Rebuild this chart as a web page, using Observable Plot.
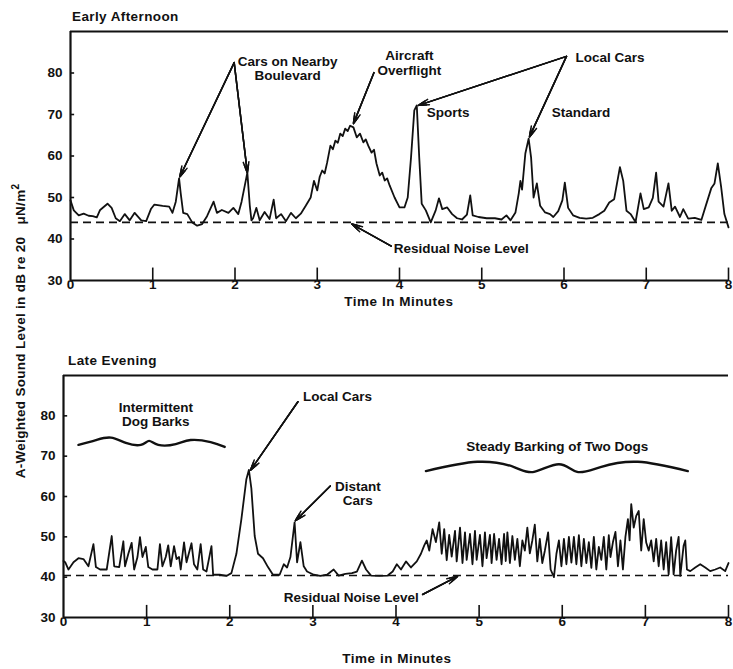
<!DOCTYPE html>
<html><head><meta charset="utf-8">
<script src="https://cdn.jsdelivr.net/npm/d3@7"></script>
<script src="https://cdn.jsdelivr.net/npm/@observablehq/plot@0.6"></script>
<style>
body{margin:0;background:#fff;}
#wrap{position:relative;width:733px;height:669px;font-family:"Liberation Sans",Arial,Helvetica,sans-serif;font-weight:bold;color:#111;overflow:hidden;}
.abs{position:absolute;white-space:nowrap;}
</style></head><body>
<div id="wrap">
  <div class="abs" id="p1" style="left:0;top:0"></div>
  <div class="abs" id="p2" style="left:0;top:340px"></div>
  <div class="abs" style="left:72px;top:9px;font-size:13.5px;letter-spacing:0.4px">Early Afternoon</div>
  <div class="abs" style="left:68px;top:353px;font-size:13.5px;letter-spacing:0.4px">Late Evening</div>
  <div class="abs" style="left:399px;top:302px;font-size:13.5px;letter-spacing:0.5px;line-height:14px;transform:translate(-50%,-50%)">Time In Minutes</div>
  <div class="abs" style="left:397px;top:659px;font-size:13.5px;letter-spacing:0.5px;line-height:14px;transform:translate(-50%,-50%)">Time in Minutes</div>
  <div class="abs" style="left:19px;top:331px;font-size:13.5px;letter-spacing:0.3px;transform:translate(-50%,-50%) rotate(-90deg)">A-Weighted Sound Level in dB re 20&nbsp;&nbsp; μN/m<sup style="font-size:10px">2</sup></div>
</div>
<script>
// ---------- data ----------
const xTickLabels = [0, 1, 2, 3, 4, 5, 6, 7, 8];
const yTickLabels = [30, 40, 50, 60, 70, 80];
const afternoonResidual = 44;
const eveningResidual = 40.4;

const afternoonMinutes = [0.00,0.04,0.10,0.16,0.22,0.27,0.32,0.36,0.45,0.50,0.55,0.60,0.66,0.72,0.78,0.86,0.92,0.98,1.02,1.12,1.20,1.24,1.28,1.32,1.34,1.37,1.42,1.48,1.54,1.60,1.66,1.74,1.78,1.84,1.92,1.98,2.04,2.08,2.12,2.15,2.18,2.20,2.22,2.26,2.30,2.36,2.42,2.47,2.50,2.56,2.62,2.68,2.74,2.80,2.86,2.92,2.96,3.00,3.03,3.06,3.09,3.12,3.16,3.19,3.22,3.25,3.28,3.31,3.34,3.37,3.40,3.44,3.48,3.52,3.56,3.59,3.62,3.66,3.69,3.72,3.76,3.79,3.82,3.85,3.88,3.94,4.00,4.06,4.10,4.14,4.18,4.21,4.24,4.27,4.32,4.38,4.44,4.48,4.52,4.58,4.64,4.70,4.76,4.82,4.86,4.89,4.96,5.06,5.16,5.24,5.30,5.35,5.41,5.45,5.47,5.49,5.53,5.57,5.60,5.63,5.67,5.71,5.77,5.83,5.87,5.93,5.98,6.01,6.05,6.11,6.19,6.27,6.35,6.43,6.49,6.55,6.61,6.68,6.72,6.76,6.81,6.87,6.93,6.97,7.03,7.08,7.12,7.15,7.21,7.27,7.31,7.35,7.41,7.45,7.51,7.59,7.67,7.73,7.79,7.83,7.87,7.91,7.95,8.00];
const afternoonLevel = [49.3,46.9,45.7,46.1,45.6,45.5,45.2,47.0,48.5,47.5,45.0,44.3,46.0,44.5,46.3,44.5,44.3,47.3,48.3,48.0,47.8,46.3,49.0,54.6,51.0,46.3,46.0,44.0,43.2,43.6,45.5,49.0,46.3,47.0,46.3,47.5,46.0,49.0,53.0,56.0,48.0,44.5,45.0,47.5,44.5,46.5,44.8,49.5,45.0,46.0,44.3,46.3,45.0,46.1,48.0,50.0,54.0,51.7,55.0,56.5,55.8,58.4,62.5,61.6,63.7,63.2,65.4,64.8,66.6,66.0,67.3,66.9,64.5,65.4,63.3,64.0,62.5,60.8,61.5,58.2,55.3,56.0,54.1,54.6,52.9,50.0,47.6,47.6,50.0,59.6,71.0,72.2,59.6,48.5,46.9,44.0,46.9,49.8,47.2,47.6,46.0,45.0,44.7,45.9,50.5,45.7,45.3,45.0,45.0,44.7,45.7,44.5,46.4,51.0,54.0,51.9,60.6,64.2,59.6,50.0,53.4,48.0,46.4,46.0,45.3,46.7,49.3,53.6,47.5,45.7,45.1,44.9,45.1,46.0,46.8,48.8,49.6,57.3,54.0,46.8,46.0,44.1,51.0,47.2,47.6,49.9,56.0,49.0,47.8,53.4,46.8,47.8,45.3,47.2,44.9,45.1,44.6,48.4,52.2,53.4,58.2,52.6,46.0,42.8];

const eveningMinutes = [0.00,0.02,0.06,0.12,0.18,0.24,0.30,0.36,0.39,0.44,0.52,0.58,0.61,0.67,0.72,0.74,0.78,0.82,0.85,0.89,0.92,0.95,0.99,1.02,1.07,1.13,1.16,1.19,1.23,1.26,1.29,1.33,1.36,1.39,1.41,1.45,1.48,1.54,1.57,1.61,1.65,1.68,1.72,1.78,1.80,1.88,1.96,2.02,2.08,2.14,2.20,2.23,2.26,2.30,2.34,2.40,2.46,2.52,2.60,2.65,2.69,2.73,2.78,2.81,2.85,2.89,2.93,3.01,3.09,3.17,3.25,3.31,3.39,3.47,3.53,3.59,3.64,3.70,3.80,3.90,3.96,4.01,4.06,4.12,4.18,4.25,4.30,4.34,4.37,4.40,4.44,4.48,4.52,4.55,4.58,4.61,4.64,4.67,4.71,4.73,4.77,4.80,4.83,4.85,4.89,4.92,4.95,4.97,5.01,5.04,5.07,5.09,5.13,5.15,5.18,5.21,5.24,5.27,5.30,5.32,5.34,5.37,5.40,5.43,5.46,5.49,5.52,5.55,5.58,5.61,5.64,5.67,5.70,5.73,5.76,5.79,5.83,5.86,5.90,5.93,5.96,5.99,6.02,6.05,6.08,6.11,6.14,6.17,6.20,6.23,6.26,6.29,6.32,6.35,6.38,6.41,6.44,6.47,6.50,6.53,6.56,6.58,6.61,6.64,6.67,6.70,6.73,6.76,6.79,6.81,6.83,6.86,6.89,6.92,6.95,6.98,7.01,7.04,7.07,7.10,7.13,7.16,7.19,7.22,7.25,7.28,7.31,7.34,7.37,7.40,7.42,7.46,7.48,7.50,7.54,7.60,7.66,7.72,7.78,7.84,7.90,7.96,8.00];
const eveningLevel = [44.0,43.7,41.9,43.7,44.7,44.5,42.7,48.2,42.5,41.9,41.9,50.2,42.7,42.5,48.9,42.7,45.8,48.5,41.9,45.0,49.9,45.0,47.5,42.5,41.9,41.9,48.2,42.7,45.0,47.9,42.7,47.7,44.5,45.0,41.9,48.6,43.7,48.4,43.2,41.9,48.2,41.9,41.4,47.7,40.6,40.6,40.3,41.0,45.8,54.4,64.3,66.6,62.0,50.2,45.8,44.7,42.5,40.6,40.6,43.2,42.4,45.0,53.6,43.7,48.7,42.7,41.4,40.6,40.3,40.6,41.9,40.4,40.8,41.0,41.4,44.1,41.9,40.4,40.3,40.4,41.4,43.2,41.9,43.9,42.4,43.9,45.8,47.9,49.1,46.6,51.9,48.7,53.6,45.8,51.9,44.2,50.5,45.1,51.5,43.9,52.3,43.5,51.1,44.3,50.7,43.2,51.5,44.3,50.5,42.7,51.1,44.7,50.5,43.5,50.7,44.3,49.5,43.2,50.7,44.0,51.1,43.5,50.2,44.3,49.5,42.7,49.1,46.6,52.3,45.9,49.1,53.0,43.9,49.5,43.5,46.5,51.1,41.9,40.0,45.8,49.1,42.7,49.5,43.2,50.0,43.6,50.0,43.2,50.4,42.7,49.5,43.5,48.7,42.3,50.0,41.9,47.5,44.3,50.0,41.9,50.4,45.0,48.7,51.2,42.7,49.1,41.9,50.0,54.4,49.1,58.1,52.3,55.2,56.4,46.6,54.4,48.6,46.6,49.1,43.9,49.5,42.7,49.1,41.9,48.7,40.7,49.9,40.7,46.6,50.0,40.3,47.8,49.1,41.9,41.5,42.4,43.2,42.4,41.5,41.9,42.4,41.5,43.5];

// curly braces over the barking periods (minutes, dB)
const braceBarksMinutes = [0.18,0.39,0.57,0.75,0.93,1.03,1.14,1.35,1.53,1.77,1.94];
const braceBarksLevel   = [72.8,74.0,74.6,73.3,72.8,73.8,72.8,73.0,74.0,73.5,72.3];
const braceDogsMinutes  = [4.36,4.98,5.42,5.66,5.96,6.18,6.46,6.91,7.51];
const braceDogsLevel    = [66.3,68.6,67.3,66.1,68.0,66.1,67.3,68.6,66.3];

// ---------- drawing ----------
const FONT = '"Liberation Sans", Arial, Helvetica, sans-serif';
const rows = (xs, ys) => xs.map((t, i) => ({t, db: ys[i]}));

function panel({minutes, level, residual, height, marginTop, marginBottom, marginLeft, marginRight, labels, arrows, braces}) {
  const txt = {x: "x", y: "y", text: "text", fontSize: 13.5, fontWeight: "bold", fill: "#111", fontFamily: FONT, lineHeight: 1.05};
  const arrowMarks = [11, 8, 5].map(h =>
    Plot.arrow(arrows, {x1: "x1", y1: "y1", x2: "x2", y2: "y2", stroke: "#111", strokeWidth: 1.5, headLength: h, headAngle: 30}));
  return Plot.plot({
    width: 733, height, marginTop, marginBottom, marginLeft, marginRight,
    style: {fontFamily: FONT, fontSize: "13.5px", fontWeight: "bold", color: "#111", background: "white"},
    x: {domain: [0, 8], ticks: xTickLabels, tickSize: 0, tickPadding: -1, label: null, tickFormat: d => String(d)},
    y: {domain: [30, 90], ticks: yTickLabels, tickSize: 0, tickPadding: 8, label: null},
    marks: [
      Plot.ruleY([residual], {y: d => d, stroke: "#111", strokeWidth: 1.6, strokeDasharray: "8,5"}),
      Plot.line(rows(minutes, level), {x: "t", y: "db", stroke: "#111", strokeWidth: 1.8, strokeLinejoin: "round"}),
      Plot.ruleY([90], {y: d => d, stroke: "#111", strokeWidth: 2.2}),
      Plot.ruleY([30], {y: d => d, stroke: "#111", strokeWidth: 2.2}),
      Plot.ruleX([0], {x: d => d, stroke: "#111", strokeWidth: 2.2}),
      Plot.ruleX(xTickLabels.slice(1), {x: d => d, y1: 30, y2: 33, stroke: "#111", strokeWidth: 1.6}),
      Plot.ruleY(yTickLabels.slice(1), {y: d => d, x1: 0, x2: 0.05, stroke: "#111", strokeWidth: 1.6}),
      ...braces.map(b => Plot.line(rows(b[0], b[1]), {x: "t", y: "db", stroke: "#111", strokeWidth: 2.4, curve: "natural"})),
      ...arrowMarks,
      Plot.text(labels.filter(d => d.anchor === "start"), {...txt, textAnchor: "start"}),
      Plot.text(labels.filter(d => d.anchor === "middle"), {...txt, textAnchor: "middle"})
    ]
  });
}

document.getElementById("p1").appendChild(panel({
  minutes: afternoonMinutes, level: afternoonLevel, residual: afternoonResidual,
  height: 310, marginTop: 31, marginBottom: 30, marginLeft: 70, marginRight: 5,
  braces: [],
  labels: [
    {x: 2.64, y: 81.0, text: "Cars on Nearby\nBoulevard", anchor: "middle"},
    {x: 4.12, y: 82.4, text: "Aircraft\nOverflight", anchor: "middle"},
    {x: 6.14, y: 83.7, text: "Local Cars", anchor: "start"},
    {x: 4.33, y: 70.5, text: "Sports", anchor: "start"},
    {x: 5.85, y: 70.5, text: "Standard", anchor: "start"},
    {x: 3.93, y: 37.7, text: "Residual Noise Level", anchor: "start"}
  ],
  arrows: [
    {x1: 1.99, y1: 82.5, x2: 1.33, y2: 55.0},
    {x1: 1.99, y1: 82.5, x2: 2.15, y2: 56.0},
    {x1: 3.69, y1: 80.1, x2: 3.44, y2: 67.8},
    {x1: 6.03, y1: 84.0, x2: 4.23, y2: 72.2},
    {x1: 6.03, y1: 84.0, x2: 5.58, y2: 64.6},
    {x1: 3.90, y1: 38.3, x2: 3.42, y2: 43.6}
  ]
}));

document.getElementById("p2").appendChild(panel({
  minutes: eveningMinutes, level: eveningLevel, residual: eveningResidual,
  height: 300, marginTop: 35, marginBottom: 23, marginLeft: 63, marginRight: 5,
  braces: [[braceBarksMinutes, braceBarksLevel], [braceDogsMinutes, braceDogsLevel]],
  labels: [
    {x: 1.11, y: 80.4, text: "Intermittent\nDog Barks", anchor: "middle"},
    {x: 2.88, y: 84.7, text: "Local Cars", anchor: "start"},
    {x: 3.54, y: 60.8, text: "Distant\nCars", anchor: "middle"},
    {x: 5.94, y: 72.3, text: "Steady Barking of Two Dogs", anchor: "middle"},
    {x: 2.65, y: 35.0, text: "Residual Noise Level", anchor: "start"}
  ],
  arrows: [
    {x1: 2.82, y1: 83.5, x2: 2.25, y2: 66.5},
    {x1: 3.21, y1: 62.6, x2: 2.79, y2: 54.0},
    {x1: 4.32, y1: 35.7, x2: 4.74, y2: 40.2}
  ]
}));
</script>
</body></html>
